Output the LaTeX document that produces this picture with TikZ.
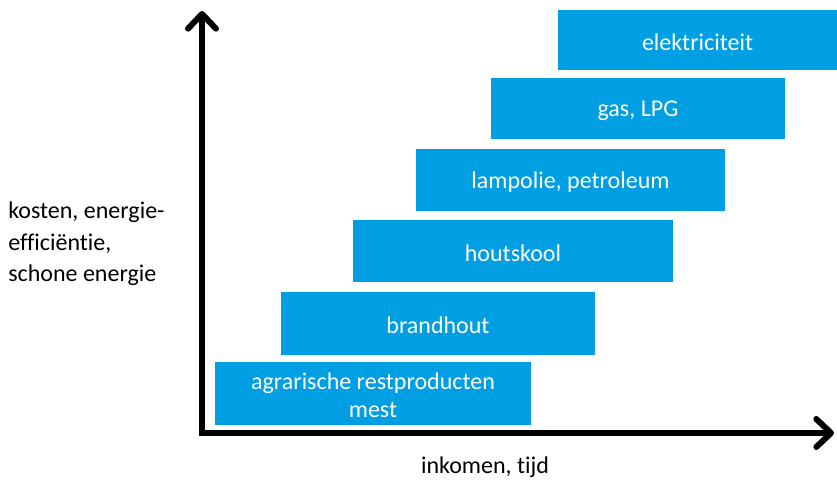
\documentclass[tikz,border=0pt]{standalone}
\usepackage{fontspec}
\setmainfont{Carlito}[Ligatures=NoCommon]
\usetikzlibrary{arrows.meta}
\definecolor{barblue}{RGB}{0,159,227}
\begin{document}
\begin{tikzpicture}
[x=0.75pt,y=-0.75pt,
bar/.style={fill=barblue},
barlabel/.style={text=white,font=\fontsize{18}{21}\selectfont,align=center,inner sep=0pt,yshift=-1.5pt},
axis/.style={line width=4.5pt,-{Straight Barb[round,length=11pt,width=21pt]}},
axislabel/.style={font=\fontsize{18}{23.5}\selectfont,inner sep=0pt}]
\useasboundingbox (0,0) rectangle (837,481);
% energy ladder
\fill[bar] (558,10) rectangle (837,70) node[midway,barlabel] (elek) {elektriciteit};
\fill[bar] (491,78) rectangle (785,139) node[midway,barlabel] (gas) {gas, LPG};
\fill[bar] (416,149) rectangle (725,211) node[midway,barlabel] (lamp) {lampolie, petroleum};
\fill[bar] (353,220) rectangle (673,282) node[midway,barlabel] (hout) {houtskool};
\fill[bar] (281,292) rectangle (595,355) node[midway,barlabel] (brand) {brandhout};
\fill[bar] (215,362) rectangle (531,425) node[midway,barlabel] (agra) {agrarische restproducten\\mest};
% axes
\coordinate (origin) at (202,433);
\coordinate (ytop) at (202,11);
\coordinate (xend) at (834,433);
\draw[axis] ([yshift=-2.25pt]origin) -- (ytop);
\draw[axis] ([xshift=-2.25pt]origin) -- (xend);
\node[axislabel,anchor=west,align=left] (ylab) at (8,244) {kosten, energie-\\efficiëntie,\\schone energie};
\node[axislabel] (xlab) at (485,467) {inkomen, tijd};
\end{tikzpicture}
\end{document}
